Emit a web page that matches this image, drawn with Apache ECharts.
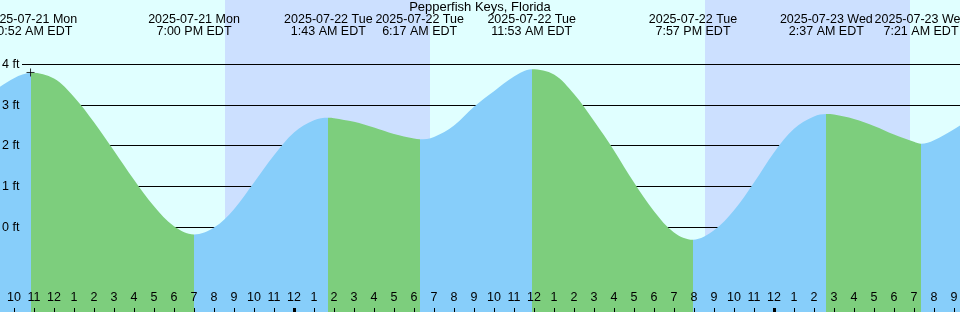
<!DOCTYPE html>
<html>
<head>
<meta charset="utf-8">
<title>Pepperfish Keys, Florida</title>
<script src="https://cdn.jsdelivr.net/npm/echarts@6/dist/echarts.min.js"></script>
<style>
  html, body { margin: 0; padding: 0; background: #e0ffff; }
  #chart { width: 960px; height: 312px; }
</style>
</head>
<body>
<div id="chart"></div>
<script>
// hours are counted from 2025-07-21 00:00 EDT
var hourTimes = [9, 10, 11, 12, 13, 14, 15, 16, 17, 18, 19, 20, 21, 22, 23, 24, 25, 26, 27, 28, 29, 30, 31, 32, 33,
                 34, 35, 36, 37, 38, 39, 40, 41, 42, 43, 44, 45, 46, 47, 48, 49, 50, 51, 52, 53, 54, 55, 56, 57, 58];
var hourHeights = [3.35, 3.66, 3.79, 3.65, 3.20, 2.58, 1.88, 1.17, 0.52, 0.03, -0.17, 0.00, 0.45, 1.10, 1.77, 2.33, 2.63, 2.68, 2.59, 2.45, 2.29, 2.18, 2.22, 2.50, 2.96,
                   3.34, 3.70, 3.88, 3.75, 3.27, 2.61, 1.89, 1.10, 0.40, -0.12, -0.30, -0.07, 0.42, 1.10, 1.84, 2.42, 2.72, 2.77, 2.66, 2.49, 2.28, 2.10, 2.14, 2.41, 2.72];

// high / low tides
var extremeTimes = [10.867, 19.0, 25.717, 30.283, 35.883, 43.95, 50.617, 55.35];
var extremeHeights = [3.79, -0.17, 2.69, 2.16, 3.88, -0.30, 2.78, 2.05];
var extremeDates = ['2025-07-21 Mon', '2025-07-21 Mon', '2025-07-22 Tue', '2025-07-22 Tue', '2025-07-22 Tue', '2025-07-22 Tue', '2025-07-23 Wed', '2025-07-23 Wed'];
var extremeClock = ['10:52 AM EDT', '7:00 PM EDT', '1:43 AM EDT', '6:17 AM EDT', '11:53 AM EDT', '7:57 PM EDT', '2:37 AM EDT', '7:21 AM EDT'];

// sunset -> sunrise
var nightStart = [20.55, 44.55];
var nightEnd = [30.8, 54.8];

var levelTicks = [0, 1, 2, 3, 4];
var hourTicks = [10, 11, 12, 13, 14, 15, 16, 17, 18, 19, 20, 21, 22, 23, 24, 25, 26, 27, 28, 29, 30, 31, 32, 33,
                 34, 35, 36, 37, 38, 39, 40, 41, 42, 43, 44, 45, 46, 47, 48, 49, 50, 51, 52, 53, 54, 55, 56, 57];
var midnightTicks = [24, 48];

var X_MIN = 9.3, X_MAX = 57.3;
var Y_MIN = -2.071, Y_MAX = 5.576;
var FONT = "'Liberation Sans', Arial, sans-serif";
var RISING = '#87cefa', FALLING = '#7dce7d', NIGHT = '#cce0ff';

// merge hourly readings with the extremes into one curve
var pts = [];
hourTimes.forEach(function (t, i) {
  var near = extremeTimes.some(function (e) { return Math.abs(e - t) < 0.2; });
  if (!near) pts.push([t, hourHeights[i]]);
});
extremeTimes.forEach(function (t, i) { pts.push([t, extremeHeights[i]]); });
pts.sort(function (a, b) { return a[0] - b[0]; });

// colour each stretch between extremes: blue while rising, green while falling
var pieces = [];
var edges = [-Infinity].concat(extremeTimes, [Infinity]);
for (var k = 0; k < edges.length - 1; k++) {
  var nextH = k < extremeHeights.length ? extremeHeights[k] : null;
  var prevH = k > 0 ? extremeHeights[k - 1] : null;
  var rising = nextH !== null ? (prevH === null ? nextH > extremeHeights[k + 1] : nextH > prevH) : prevH < extremeHeights[k - 2];
  var p = { color: rising ? RISING : FALLING };
  if (isFinite(edges[k])) p.gte = edges[k];
  if (isFinite(edges[k + 1])) p.lt = edges[k + 1];
  pieces.push(p);
}

var noLine = { show: false, onZero: false };

var chart = echarts.init(document.getElementById('chart'));
chart.setOption({
  animation: false,
  backgroundColor: '#e0ffff',
  title: {
    text: 'Pepperfish Keys, Florida',
    left: 'center',
    top: 0,
    padding: 0,
    textStyle: { fontFamily: FONT, fontSize: 13, fontWeight: 'normal', color: '#000', lineHeight: 14 }
  },
  grid: { left: 0, right: 0, top: 0, bottom: 0, containLabel: false, outerBoundsMode: 'none' },
  visualMap: {
    type: 'piecewise', show: false, dimension: 0, seriesIndex: 2,
    pieces: pieces
  },
  xAxis: [
    {
      type: 'value', min: X_MIN, max: X_MAX, position: 'bottom', z: 5,
      axisLine: noLine, splitLine: { show: false },
      axisTick: { inside: true, length: 4, customValues: hourTicks, lineStyle: { color: '#000' } },
      axisLabel: {
        inside: true, customValues: hourTicks, margin: 14.3, verticalAlign: 'middle', hideOverlap: false,
        color: '#000', fontFamily: FONT, fontSize: 12.5,
        formatter: function (v) { return String((Math.round(v) % 12) || 12); }
      }
    },
    {
      type: 'value', min: X_MIN, max: X_MAX, position: 'bottom', z: 5,
      axisLine: noLine, splitLine: { show: false },
      axisTick: { inside: true, length: 4, customValues: midnightTicks, lineStyle: { color: '#000', width: 3 } },
      axisLabel: { show: false }
    },
    {
      type: 'value', min: X_MIN, max: X_MAX, position: 'top', z: 5,
      axisLine: noLine, splitLine: { show: false }, axisTick: { show: false },
      axisLabel: {
        inside: true, customValues: extremeTimes, margin: 25.5, verticalAlign: 'middle', align: 'center', hideOverlap: false,
        color: '#000', fontFamily: FONT, fontSize: 12.5, lineHeight: 11.6,
        formatter: function (v) {
          var best = 0;
          extremeTimes.forEach(function (t, i) {
            if (Math.abs(t - v) < Math.abs(extremeTimes[best] - v)) best = i;
          });
          return extremeDates[best] + '\n' + extremeClock[best];
        }
      }
    }
  ],
  yAxis: {
    type: 'value', min: Y_MIN, max: Y_MAX, z: 5,
    axisLine: noLine, axisTick: { show: false }, splitLine: { show: false },
    axisLabel: {
      inside: true, customValues: levelTicks, margin: 2, verticalAlign: 'middle',
      color: '#000', fontFamily: FONT, fontSize: 12.5,
      formatter: function (v) { return v + ' ft'; }
    }
  },
  series: [
    {
      // night shading
      type: 'custom', z: 0, silent: true,
      data: nightStart.map(function (s, i) { return [s, nightEnd[i]]; }),
      renderItem: function (params, api) {
        var cs = params.coordSys;
        var x0 = api.coord([api.value(0), 0])[0];
        var x1 = api.coord([api.value(1), 0])[0];
        return { type: 'rect', shape: { x: x0, y: cs.y, width: x1 - x0, height: cs.height }, style: { fill: NIGHT } };
      }
    },
    {
      // level lines, drawn behind the tide
      type: 'custom', z: 1, silent: true,
      data: levelTicks.map(function (v) { return [X_MIN, v]; }),
      renderItem: function (params, api) {
        var cs = params.coordSys;
        var y = Math.floor(api.coord([api.value(0), api.value(1)])[1]) + 0.5;
        return { type: 'line', shape: { x1: cs.x + 22, y1: y, x2: cs.x + cs.width, y2: y }, style: { stroke: '#000', lineWidth: 1 } };
      }
    },
    {
      name: 'Tide',
      type: 'line',
      data: pts,
      smooth: 0.35,
      symbol: 'none',
      silent: true,
      z: 2,
      lineStyle: { width: 0 },
      areaStyle: { opacity: 1, origin: 'start' }
    },
    {
      type: 'scatter', z: 6, silent: true,
      data: [[extremeTimes[0], extremeHeights[0]]],
      symbol: 'path://M0,4H8M4,0V8',
      symbolSize: 8,
      symbolOffset: [-0.8, -0.4],
      itemStyle: { color: 'none', borderColor: '#000', borderWidth: 1 }
    }
  ]
});
</script>
</body>
</html>
